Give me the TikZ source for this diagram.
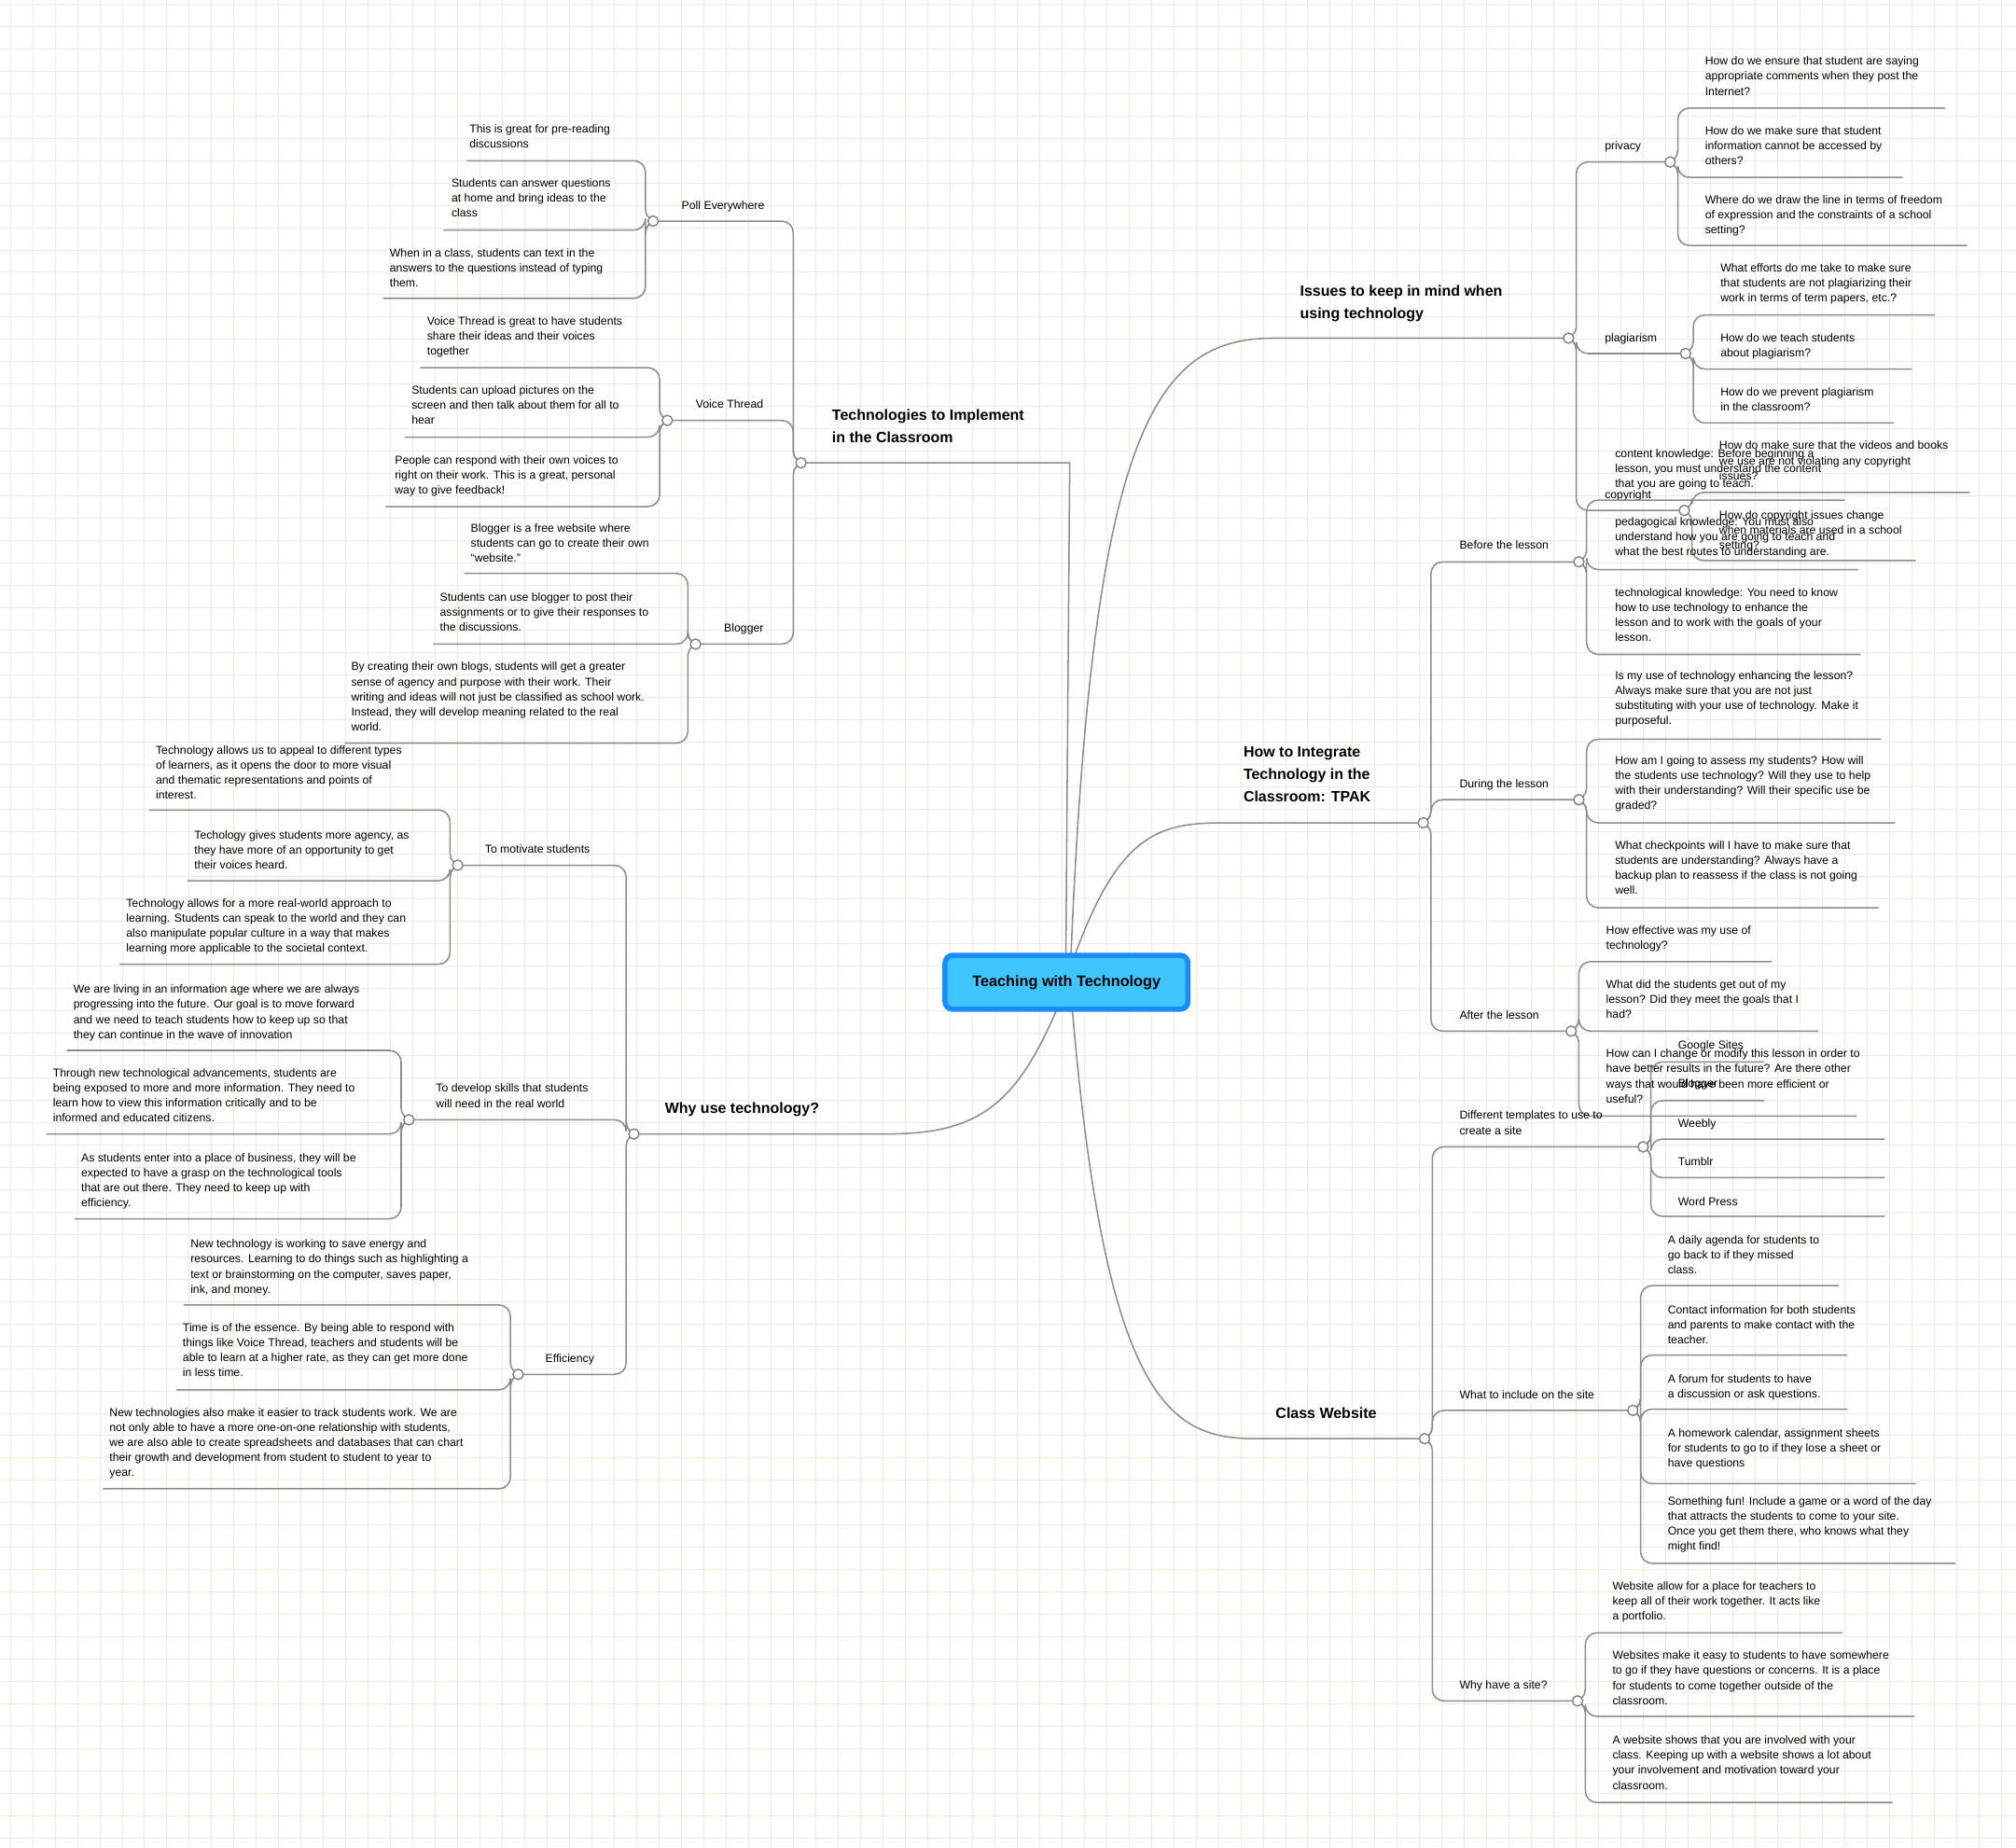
\documentclass[tikz,border=0pt]{standalone}
\usepackage{fontspec}
\setmainfont{Liberation Sans}
\newcounter{nn}
\definecolor{cfill}{HTML}{3FC6FF}
\definecolor{cdraw}{HTML}{1A8CFF}
\definecolor{gridg}{HTML}{E6EFDC}
\tikzset{
 conn/.style={draw=black!45,line width=1.1pt,rounded corners=9pt},
 hubc/.style={circle,draw=black!50,fill=white,line width=1pt,minimum size=8pt,inner sep=0pt},
 leaf/.style={inner sep=0pt,align=left,anchor=north west,font=\fontsize{8.9}{11.7}\selectfont},
 ttl/.style={inner sep=0pt,align=left,anchor=north west,font=\fontsize{11.6}{17.5}\selectfont\bfseries},
 gridl/.style={draw=gridg,line width=0.6pt}
}
\newcommand\RL[6]{\stepcounter{nn}
 \draw[conn] (#1) -- ++(6,0) |- (#4,#2);
 \node[leaf] (n\thenn) at (#3,{#5-3}) {#6};}
\newcommand\LL[6]{\stepcounter{nn}
 \draw[conn] (#1) -- ++(-6,0) |- (#4,#2);
 \node[leaf] (n\thenn) at (#3,{#5-3}) {#6};}
\newcommand\ttlt[3]{\stepcounter{nn}\node[ttl] (n\thenn) at (#1,{#2-5.5}) {#3};}
\begin{document}
\begin{tikzpicture}[x=1pt,y=-1pt]
\useasboundingbox (0,0) rectangle (1568,1437);
\fill[white] (0,0) rectangle (1568,1437);
\foreach \i in {0,...,90} {\draw[gridl] ({\i*17.4+8},0) -- ({\i*17.4+8},1437);}
\foreach \i in {0,...,83} {\draw[gridl] (0,{\i*17.4+3}) -- (1568,{\i*17.4+3});}

\coordinate (C) at (829,764);
\coordinate (iss) at (1220,263);
\coordinate (pri) at (1299,126);
\coordinate (pla) at (1311,275);
\coordinate (cop) at (1310,397);
\coordinate (how) at (1107,640);
\coordinate (bef) at (1228,437);
\coordinate (dur) at (1228,622);
\coordinate (aft) at (1222,802);
\coordinate (cls) at (1108,1119);
\coordinate (tem) at (1278,892);
\coordinate (inc) at (1270,1097);
\coordinate (why) at (1227,1323);
\coordinate (tec) at (623,360);
\coordinate (pol) at (508,172);
\coordinate (voi) at (519,327);
\coordinate (blo) at (541,501);
\coordinate (wu) at (493,882);
\coordinate (mot) at (356,673);
\coordinate (dev) at (318,871);
\coordinate (eff) at (403,1069);

\draw[conn] (833,743) .. controls (850,330) and (900,263) .. (1000,263) -- (iss);
\draw[conn] (836,743) .. controls (870,650) and (900,640) .. (960,640) -- (how);
\draw[conn] (834,785) .. controls (860,1090) and (910,1119) .. (985,1119) -- (cls);
\draw[conn,rounded corners=0pt] (829,743) -- (832,360) -- (tec);
\draw[conn,rounded corners=0pt] (822,785) .. controls (790,860) and (760,882) .. (690,882) -- (wu);

\ttlt{1011}{227}{Issues to keep in mind when\\using technology}
\RL{iss}{126}{1248}{1299}{113}{privacy}
\RL{iss}{275}{1248}{1311}{262}{plagiarism}
\RL{iss}{397}{1248}{1310}{384}{copyright}
\RL{pri}{84}{1326}{1513}{47}{How do we ensure that student are saying\\appropriate comments when they post the\\Internet?}
\RL{pri}{138}{1326}{1480}{101}{How do we make sure that student\\information cannot be accessed by\\others?}
\RL{pri}{191}{1326}{1530}{155}{Where do we draw the line in terms of freedom\\of expression and the constraints of a school\\setting?}
\RL{pla}{245}{1338}{1505}{208}{What efforts do me take to make sure\\that students are not plagiarizing their\\work in terms of term papers, etc.?}
\RL{pla}{287}{1338}{1487}{262}{How do we teach students\\about plagiarism?}
\RL{pla}{329}{1338}{1473}{304}{How do we prevent plagiarism\\in the classroom?}
\RL{cop}{383}{1337}{1532}{346}{How do make sure that the videos and books\\we use are not violating any copyright\\issues?}
\RL{cop}{436}{1337}{1490}{400}{How do copyright issues change\\when materials are used in a school\\setting?}

\ttlt{967}{586}{How to Integrate\\Technology in the\\Classroom: TPAK}
\RL{how}{437}{1135}{1228}{423}{Before the lesson}
\RL{how}{622}{1135}{1228}{609}{During the lesson}
\RL{how}{802}{1135}{1222}{789}{After the lesson}
\RL{bef}{389}{1256}{1435}{352}{content knowledge: Before beginning a\\lesson, you must understand the content\\that you are going to teach.}
\RL{bef}{443}{1256}{1445}{405}{pedagogical knowledge: You must also\\understand how you are going to teach and\\what the best routes to understanding are.}
\RL{bef}{509}{1256}{1447}{460}{technological knowledge: You need to know\\how to use technology to enhance the\\lesson and to work with the goals of your\\lesson.}
\RL{dur}{575}{1256}{1463}{525}{Is my use of technology enhancing the lesson?\\Always make sure that you are not just\\substituting with your use of technology. Make it\\purposeful.}
\RL{dur}{640}{1256}{1474}{591}{How am I going to assess my students? How will\\the students use technology? Will they use to help\\with their understanding? Will their specific use be\\graded?}
\RL{dur}{706}{1256}{1461}{657}{What checkpoints will I have to make sure that\\students are understanding? Always have a\\backup plan to reassess if the class is not going\\well.}
\RL{aft}{748}{1249}{1378}{723}{How effective was my use of\\technology?}
\RL{aft}{802}{1249}{1414}{765}{What did the students get out of my\\lesson? Did they meet the goals that I\\had?}
\RL{aft}{868}{1249}{1444}{819}{How can I change or modify this lesson in order to\\have better results in the future? Are there other\\ways that would have been more efficient or\\useful?}

\ttlt{992}{1100}{Class Website}
\RL{cls}{892}{1135}{1278}{867}{Different templates to use to\\create a site}
\RL{cls}{1097}{1135}{1270}{1084}{What to include on the site}
\RL{cls}{1323}{1135}{1227}{1310}{Why have a site?}
\RL{tem}{826}{1305}{1372}{812}{Google Sites}
\RL{tem}{856}{1305}{1372}{842}{Blogger}
\RL{tem}{886}{1305}{1466}{873}{Weebly}
\RL{tem}{916}{1305}{1466}{903}{Tumblr}
\RL{tem}{946}{1305}{1466}{934}{Word Press}
\RL{inc}{1000}{1297}{1430}{964}{A daily agenda for students to\\go back to if they missed\\class.}
\RL{inc}{1054}{1297}{1437}{1018}{Contact information for both students\\and parents to make contact with the\\teacher.}
\RL{inc}{1096}{1297}{1437}{1072}{A forum for students to have\\a discussion or ask questions.}
\RL{inc}{1154}{1297}{1490}{1114}{A homework calendar, assignment sheets\\for students to go to if they lose a sheet or\\have questions}
\RL{inc}{1216}{1297}{1521}{1167}{Something fun! Include a game or a word of the day\\that attracts the students to come to your site.\\Once you get them there, who knows what they\\might find!}
\RL{why}{1270}{1254}{1433}{1233}{Website allow for a place for teachers to\\keep all of their work together. It acts like\\a portfolio.}
\RL{why}{1335}{1254}{1489}{1287}{Websites make it easy to students to have somewhere\\to go if they have questions or concerns. It is a place\\for students to come together outside of the\\classroom.}
\RL{why}{1402}{1254}{1472}{1353}{A website shows that you are involved with your\\class. Keeping up with a website shows a lot about\\your involvement and motivation toward your\\classroom.}

\ttlt{647}{324}{Technologies to Implement\\in the Classroom}
\LL{tec}{172}{530}{508}{159}{Poll Everywhere}
\LL{tec}{327}{541}{519}{314}{Voice Thread}
\LL{tec}{501}{563}{541}{488}{Blogger}
\LL{pol}{125}{365}{363}{100}{This is great for pre-reading\\discussions}
\LL{pol}{179}{351}{345}{142}{Students can answer questions\\at home and bring ideas to the\\class}
\LL{pol}{232}{303}{298}{196}{When in a class, students can text in the\\answers to the questions instead of typing\\them.}
\LL{voi}{286}{332}{327}{249}{Voice Thread is great to have students\\share their ideas and their voices\\together}
\LL{voi}{340}{320}{315}{303}{Students can upload pictures on the\\screen and then talk about them for all to\\hear}
\LL{voi}{394}{307}{300}{357}{People can respond with their own voices to\\right on their work. This is a great, personal\\way to give feedback!}
\LL{blo}{446}{366}{361}{410}{Blogger is a free website where\\students can go to create their own\\``website.''}
\LL{blo}{501}{342}{337}{464}{Students can use blogger to post their\\assignments or to give their responses to\\the discussions.}
\LL{blo}{578}{273}{268}{518}{By creating their own blogs, students will get a greater\\sense of agency and purpose with their work. Their\\writing and ideas will not just be classified as school work.\\Instead, they will develop meaning related to the real\\world.}

\ttlt{517}{863}{Why use technology?}
\LL{wu}{673}{377}{356}{660}{To motivate students}
\LL{wu}{871}{339}{318}{846}{To develop skills that students\\will need in the real world}
\LL{wu}{1069}{424}{403}{1056}{Efficiency}
\LL{mot}{630}{121}{116}{583}{Technology allows us to appeal to different types\\of learners, as it opens the door to more visual\\and thematic representations and points of\\interest.}
\LL{mot}{685}{151}{146}{649}{Techology gives students more agency, as\\they have more of an opportunity to get\\their voices heard.}
\LL{mot}{750}{98}{93}{702}{Technology allows for a more real-world approach to\\learning. Students can speak to the world and they can\\also manipulate popular culture in a way that makes\\learning more applicable to the societal context.}
\LL{dev}{817}{57}{52}{769}{We are living in an information age where we are always\\progressing into the future. Our goal is to move forward\\and we need to teach students how to keep up so that\\they can continue in the wave of innovation}
\LL{dev}{882}{41}{36}{834}{Through new technological advancements, students are\\being exposed to more and more information. They need to\\learn how to view this information critically and to be\\informed and educated citizens.}
\LL{dev}{948}{63}{58}{900}{As students enter into a place of business, they will be\\expected to have a grasp on the technological tools\\that are out there. They need to keep up with\\efficiency.}
\LL{eff}{1015}{148}{143}{967}{New technology is working to save energy and\\resources. Learning to do things such as highlighting a\\text or brainstorming on the computer, saves paper,\\ink, and money.}
\LL{eff}{1081}{142}{137}{1032}{Time is of the essence. By being able to respond with\\things like Voice Thread, teachers and students will be\\able to learn at a higher rate, as they can get more done\\in less time.}
\LL{eff}{1158}{85}{80}{1098}{New technologies also make it easier to track students work. We are\\not only able to have a more one-on-one relationship with students,\\we are also able to create spreadsheets and databases that can chart\\their growth and development from student to student to year to\\year.}

\foreach \h in {iss,pri,pla,cop,how,bef,dur,aft,cls,tem,inc,why,tec,pol,voi,blo,wu,mot,dev,eff}
  {\node[hubc] (h\h) at (\h) {};}

\draw[draw=cdraw,line width=4pt,fill=cfill,rounded corners=6pt] (735,743) rectangle (924,785);
\node[font=\fontsize{11.8}{14}\selectfont\bfseries] (center) at (829.5,764) {Teaching with Technology};
\end{tikzpicture}
\end{document}
